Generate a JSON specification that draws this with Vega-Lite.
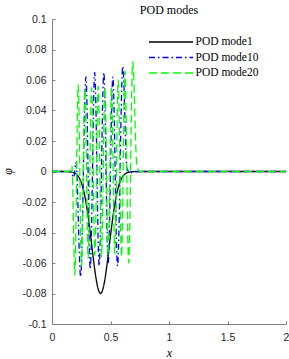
{
"$schema": "https://vega.github.io/schema/vega-lite/v6.json",
"width": 234, "height": 305,
"autosize": {"type": "none"},
"padding": {"left": 52, "top": 19, "right": 3, "bottom": 35},
"title": {"text": "POD modes", "font": "Liberation Serif", "fontSize": 12, "fontWeight": "normal", "anchor": "middle", "offset": -3, "color": "#000000"},
"config": {"view": {"stroke": null}},
"data": {"values": [
{"m":"POD mode1","x":0,"y":0},{"m":"POD mode1","x":0.1,"y":0},{"m":"POD mode1","x":0.15,"y":-0.0002},{"m":"POD mode1","x":0.175,"y":-0.0005},{"m":"POD mode1","x":0.2,"y":-0.0013},{"m":"POD mode1","x":0.225,"y":-0.0032},{"m":"POD mode1","x":0.25,"y":-0.0071},{"m":"POD mode1","x":0.275,"y":-0.014},{"m":"POD mode1","x":0.3,"y":-0.0247},{"m":"POD mode1","x":0.325,"y":-0.0389},{"m":"POD mode1","x":0.35,"y":-0.055},{"m":"POD mode1","x":0.375,"y":-0.0694},{"m":"POD mode1","x":0.4,"y":-0.0784},{"m":"POD mode1","x":0.415,"y":-0.08},{"m":"POD mode1","x":0.425,"y":-0.0793},{"m":"POD mode1","x":0.45,"y":-0.0717},{"m":"POD mode1","x":0.475,"y":-0.0581},{"m":"POD mode1","x":0.5,"y":-0.0421},{"m":"POD mode1","x":0.525,"y":-0.0273},{"m":"POD mode1","x":0.55,"y":-0.0158},{"m":"POD mode1","x":0.575,"y":-0.0082},{"m":"POD mode1","x":0.6,"y":-0.0038},{"m":"POD mode1","x":0.625,"y":-0.0016},{"m":"POD mode1","x":0.65,"y":-0.0006},{"m":"POD mode1","x":0.7,"y":-0.0001},{"m":"POD mode1","x":0.8,"y":0},{"m":"POD mode1","x":2,"y":0},
{"m":"POD mode10","x":0,"y":0},{"m":"POD mode10","x":0.16,"y":0},{"m":"POD mode10","x":0.185,"y":-0.004},{"m":"POD mode10","x":0.205,"y":0.006},{"m":"POD mode10","x":0.245,"y":-0.069},{"m":"POD mode10","x":0.29,"y":0.062},{"m":"POD mode10","x":0.327,"y":-0.064},{"m":"POD mode10","x":0.365,"y":0.065},{"m":"POD mode10","x":0.403,"y":-0.062},{"m":"POD mode10","x":0.443,"y":0.065},{"m":"POD mode10","x":0.48,"y":-0.06},{"m":"POD mode10","x":0.52,"y":0.062},{"m":"POD mode10","x":0.56,"y":-0.062},{"m":"POD mode10","x":0.605,"y":0.069},{"m":"POD mode10","x":0.64,"y":0.002},{"m":"POD mode10","x":0.67,"y":-0.001},{"m":"POD mode10","x":0.7,"y":0},{"m":"POD mode10","x":2,"y":0},
{"m":"POD mode20","x":0,"y":0},{"m":"POD mode20","x":0.15,"y":0},{"m":"POD mode20","x":0.17,"y":0.004},{"m":"POD mode20","x":0.195,"y":-0.068},{"m":"POD mode20","x":0.224,"y":0.057},{"m":"POD mode20","x":0.252,"y":-0.062},{"m":"POD mode20","x":0.281,"y":0.054},{"m":"POD mode20","x":0.309,"y":-0.057},{"m":"POD mode20","x":0.338,"y":0.055},{"m":"POD mode20","x":0.366,"y":-0.055},{"m":"POD mode20","x":0.395,"y":0.056},{"m":"POD mode20","x":0.423,"y":-0.056},{"m":"POD mode20","x":0.452,"y":0.055},{"m":"POD mode20","x":0.48,"y":-0.055},{"m":"POD mode20","x":0.509,"y":0.055},{"m":"POD mode20","x":0.537,"y":-0.054},{"m":"POD mode20","x":0.566,"y":0.06},{"m":"POD mode20","x":0.594,"y":-0.056},{"m":"POD mode20","x":0.623,"y":0.066},{"m":"POD mode20","x":0.655,"y":-0.06},{"m":"POD mode20","x":0.69,"y":0.072},{"m":"POD mode20","x":0.725,"y":0.004},{"m":"POD mode20","x":0.75,"y":0},{"m":"POD mode20","x":2,"y":0}
]},
"mark": {"type": "line", "strokeWidth": 1.3, "interpolate": "monotone"},
"encoding": {
"x": {"field": "x", "type": "quantitative", "scale": {"domain": [0, 2], "nice": false},
 "axis": {"values": [0, 0.5, 1, 1.5, 2], "labelExpr": "'' + datum.value", "title": "x", "titleFont": "Liberation Serif", "titleFontStyle": "italic", "titleFontWeight": "normal", "titleFontSize": 12, "titleColor": "#000000", "titleX": 117, "titleY": 28, "titleBaseline": "middle", "grid": false, "domainColor": "#808080", "tickColor": "#808080", "tickSize": -3, "labelFont": "Liberation Sans", "labelFontSize": 10.5, "labelColor": "#262626", "labelPadding": 11, "labelFlush": false}},
"y": {"field": "y", "type": "quantitative", "scale": {"domain": [-0.1, 0.1], "nice": false},
 "axis": {"values": [-0.1, -0.08, -0.06, -0.04, -0.02, 0, 0.02, 0.04, 0.06, 0.08, 0.1], "labelExpr": "'' + datum.value", "title": "φ", "titleFont": "Liberation Serif", "titleFontStyle": "italic", "titleFontWeight": "normal", "titleFontSize": 12, "titleColor": "#000000", "titleX": -45, "titleY": 152, "titleBaseline": "middle", "grid": false, "domainColor": "#808080", "tickColor": "#808080", "tickSize": -3, "labelFont": "Liberation Sans", "labelFontSize": 10.5, "labelColor": "#262626", "labelPadding": 9, "labelFlush": false}},
"color": {"field": "m", "type": "nominal", "scale": {"domain": ["POD mode1", "POD mode10", "POD mode20"], "range": ["#000000", "#0000ff", "#00ff00"]},
 "legend": {"title": null, "orient": "none", "legendX": 112.5, "legendY": 16.5, "symbolType": "M-4,0H4", "symbolSize": 121, "symbolStrokeWidth": 1.5, "symbolFillColor": "transparent", "labelFont": "Liberation Serif", "labelFontSize": 11.5, "labelColor": "#000000", "labelOffset": 18, "padding": 0, "rowPadding": 3.5}},
"strokeDash": {"field": "m", "type": "nominal", "scale": {"domain": ["POD mode1", "POD mode10", "POD mode20"], "range": [[1, 0], [6, 3, 1.5, 3], [8, 4]]},
 "legend": {"title": null, "orient": "none", "legendX": 112.5, "legendY": 16.5, "symbolType": "M-4,0H4", "symbolSize": 121, "symbolStrokeWidth": 1.5, "symbolFillColor": "transparent", "labelFont": "Liberation Serif", "labelFontSize": 11.5, "labelColor": "#000000", "labelOffset": 18, "padding": 0, "rowPadding": 3.5}}
}
}
